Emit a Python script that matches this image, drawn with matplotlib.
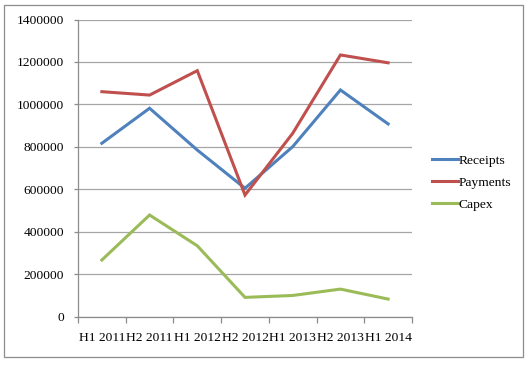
import matplotlib
matplotlib.use("Agg")
import matplotlib.pyplot as plt
from matplotlib.patches import Rectangle

categories = ["H1 2011", "H2 2011", "H1 2012", "H2 2012", "H1 2013", "H2 2013", "H1 2014"]
receipts = [817000, 982000, 785000, 605000, 801000, 1068000, 908000]
payments = [1060000, 1044000, 1159000, 573000, 864000, 1233000, 1196000]
capex = [267000, 479000, 334000, 91000, 100000, 130000, 83000]
yticks = [0, 200000, 400000, 600000, 800000, 1000000, 1200000, 1400000]

plt.rcParams['font.family'] = ['Liberation Serif', 'DejaVu Serif']
fs = 9.7

fig = plt.figure(figsize=(5.3, 3.65), dpi=100)
W, H = 530, 365
fig.patches.append(Rectangle((4 / W, 1 - 357 / H), (523 - 4) / W, (357 - 5) / H,
                             transform=fig.transFigure, fill=False, edgecolor='#8c8c8c', lw=0.9))

ax = fig.add_axes([78 / W, 1 - 316.7 / H, (412 - 78) / W, (316.7 - 19.5) / H])
x = [i + 0.5 for i in range(len(categories))]
colors = ['#4F81BD', '#C0504D', '#9BBB59']
for vals, name, c in zip([receipts, payments, capex], ["Receipts", "Payments", "Capex"], colors):
    ax.plot(x, vals, color=c, lw=2.2, label=name, solid_joinstyle='miter')

ax.set_xlim(0, len(categories))
ax.set_ylim(0, 1400000)
ax.set_yticks(yticks)
ax.set_yticklabels([str(v) for v in yticks], fontsize=fs)
ax.yaxis.grid(True, color='#a6a6a6', lw=0.9)
ax.set_axisbelow(True)
ax.set_xticks(range(len(categories) + 1))
ax.set_xticklabels([])
ax.set_xticks(x, minor=True)
ax.set_xticklabels(categories, minor=True, fontsize=fs)
ax.tick_params(axis='x', which='major', length=4, direction='out', color='#8c8c8c', width=0.9)
ax.tick_params(axis='x', which='minor', length=0, pad=11)
ax.tick_params(axis='y', length=3, direction='out', color='#8c8c8c', width=0.9, pad=7)
for s in ['top', 'right']:
    ax.spines[s].set_visible(False)
for s in ['left', 'bottom']:
    ax.spines[s].set_color('#8c8c8c')
    ax.spines[s].set_linewidth(0.9)

fig.legend(loc='center left', bbox_to_anchor=(420 / W, 1 - 182.5 / H), frameon=False,
           fontsize=fs, handlelength=1.9, handletextpad=0.05, labelspacing=0.7)

fig.savefig("out.png", dpi=100)
